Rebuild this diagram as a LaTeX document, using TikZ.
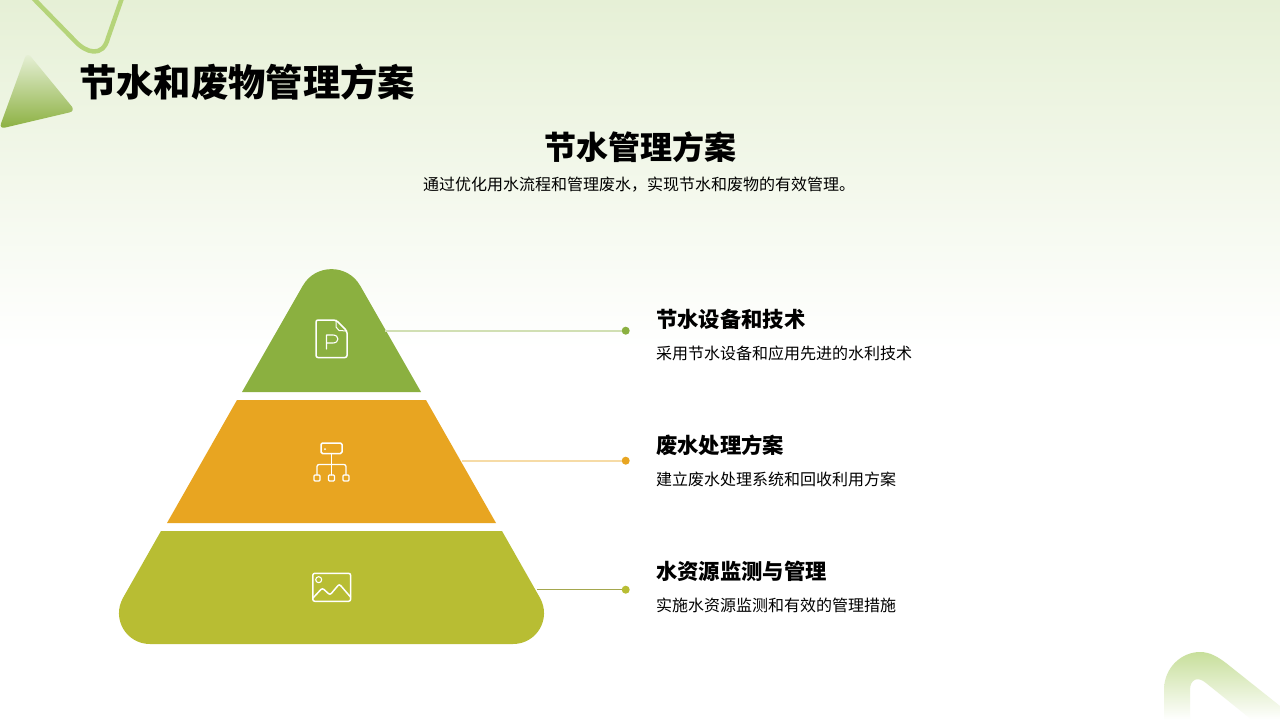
\documentclass[tikz,border=0pt]{standalone}
\usepackage{fontspec}
\setmainfont{Noto Sans CJK SC}
\definecolor{cgreen}{HTML}{8BB040}
\definecolor{corange}{HTML}{E8A521}
\definecolor{colive}{HTML}{B8BD33}
\definecolor{ctop}{HTML}{E6F0D6}
\definecolor{cline}{HTML}{B5D47A}
\tikzset{
  titletext/.style={anchor=base west,inner sep=0pt,font=\fontsize{37.3}{38}\selectfont\bfseries},
  subtitletext/.style={anchor=base,inner sep=0pt,font=\fontsize{32}{32}\selectfont\bfseries},
  headtext/.style={anchor=base west,inner sep=0pt,font=\fontsize{21.33}{22}\selectfont\bfseries},
  bodytext/.style={anchor=base west,inner sep=0pt,font=\fontsize{16}{16}\selectfont},
  icon/.style={draw=white,line width=1.5pt,line join=round,line cap=round},
  dotnode/.style={circle,inner sep=0pt,minimum size=8pt},
  leader/.style={line width=2pt}
}
\begin{document}
\begin{tikzpicture}[x=1pt,y=-1pt]
\useasboundingbox (0,0) rectangle (1280,720);
\fill[white] (0,0) rectangle (1280,720);
\shade[top color=ctop,bottom color=white] (0,0) rectangle (1280,350);

% decorative shapes
\draw[cline,line width=4.5pt,line join=round] (33,-2) -- (75,41) .. controls (86,53) and (103,58) .. (108,38) -- (122,-2);
\path[rounded corners=6pt,top color=ctop!90!white,bottom color=cgreen] (27,52) -- (75.5,111) -- (-1,129) -- cycle;
\path[top color=cline!75!white,bottom color=white] (1164,720) -- (1164,690)
  .. controls (1164,667) and (1182,652) .. (1200,652)
  .. controls (1210,652) and (1218,657) .. (1226,663)
  -- (1280,706) -- (1280,720) -- (1252,720) -- (1206,683)
  .. controls (1198,676) and (1190,679) .. (1190,690) -- (1190,720) -- cycle;

% pyramid
\fill[cgreen] (242,392) -- (302.8,285.7) .. controls (315.4,263.6) and (347.6,263.6) .. (360.2,285.7) -- (421,392) -- cycle;
\fill[corange] (237,400) -- (426,400) -- (496,523) -- (167,523) -- cycle;
\fill[colive] (161,531) -- (502,531) -- (539.9,597.7) .. controls (551.7,618.5) and (536.9,644) .. (513,644)
  -- (150,644) .. controls (126.1,644) and (111.3,618.5) .. (123.1,597.7) -- cycle;

% leaders
\coordinate (a1) at (385,330.7);
\coordinate (a2) at (462,460.7);
\coordinate (a3) at (537,589.7);
\node[dotnode,fill=cgreen] (d1) at (625.7,330.7) {};
\node[dotnode,fill=corange] (d2) at (625.7,460.7) {};
\node[dotnode,fill=colive] (d3) at (625.7,589.7) {};
\draw[leader,draw=cgreen!40!white] (a1) -- (d1);
\draw[leader,draw=corange!40!white] (a2) -- (d2);
\draw[draw=colive!65!gray,line width=1pt] (a3) -- (d3);

% icon: presentation file
\draw[icon,rounded corners=2pt] (336,320) -- (316,320) -- (316,357.5) -- (347,357.5) -- (347,331) -- cycle;
\draw[icon,line width=1pt] (336,320) -- (336,327) -- (339,330.5) -- (347,331);
\draw[icon,line width=1.1pt] (326.5,349) -- (326.5,335) -- (333,335) .. controls (339.5,335) and (339.5,343) .. (333,343) -- (326.5,343);
% icon: hierarchy
\draw[icon,rounded corners=1.5pt] (321,443) rectangle (342,453.5);
\fill[white] (325,449) circle (1pt);
\draw[icon,line width=1.3pt] (331.5,453.5) -- (331.5,475);
\draw[icon,line width=1.3pt,rounded corners=2pt] (317,475) -- (317,464.5) -- (346,464.5) -- (346,475);
\foreach \xx in {317,331.5,346} \draw[icon,line width=1.3pt,rounded corners=1pt] (\xx-3,475) rectangle (\xx+3,481);
% icon: image
\draw[icon,rounded corners=2pt] (312.8,573.3) rectangle (350.6,601.3);
\draw[icon,line width=1.1pt] (318.7,579.7) circle (3pt);
\draw[icon,rounded corners=2pt] (313,598) -- (322.3,588) -- (330,595) -- (339.3,584) -- (350.5,597);

% text
\node[titletext] (title) at (79,96) {节水和废物管理方案};
\node[subtitletext] (sub) at (640,159) {节水管理方案};
\node[anchor=base,inner sep=0pt,font=\fontsize{16}{16}\selectfont] (desc) at (639,190) {通过优化用水流程和管理废水，实现节水和废物的有效管理。};
\node[headtext] (h1) at (656,327.5) {节水设备和技术};
\node[bodytext] (b1) at (656,359) {采用节水设备和应用先进的水利技术};
\node[headtext] (h2) at (656,453) {废水处理方案};
\node[bodytext] (b2) at (656,485) {建立废水处理系统和回收利用方案};
\node[headtext] (h3) at (656,579) {水资源监测与管理};
\node[bodytext] (b3) at (656,611) {实施水资源监测和有效的管理措施};
\end{tikzpicture}
\end{document}
